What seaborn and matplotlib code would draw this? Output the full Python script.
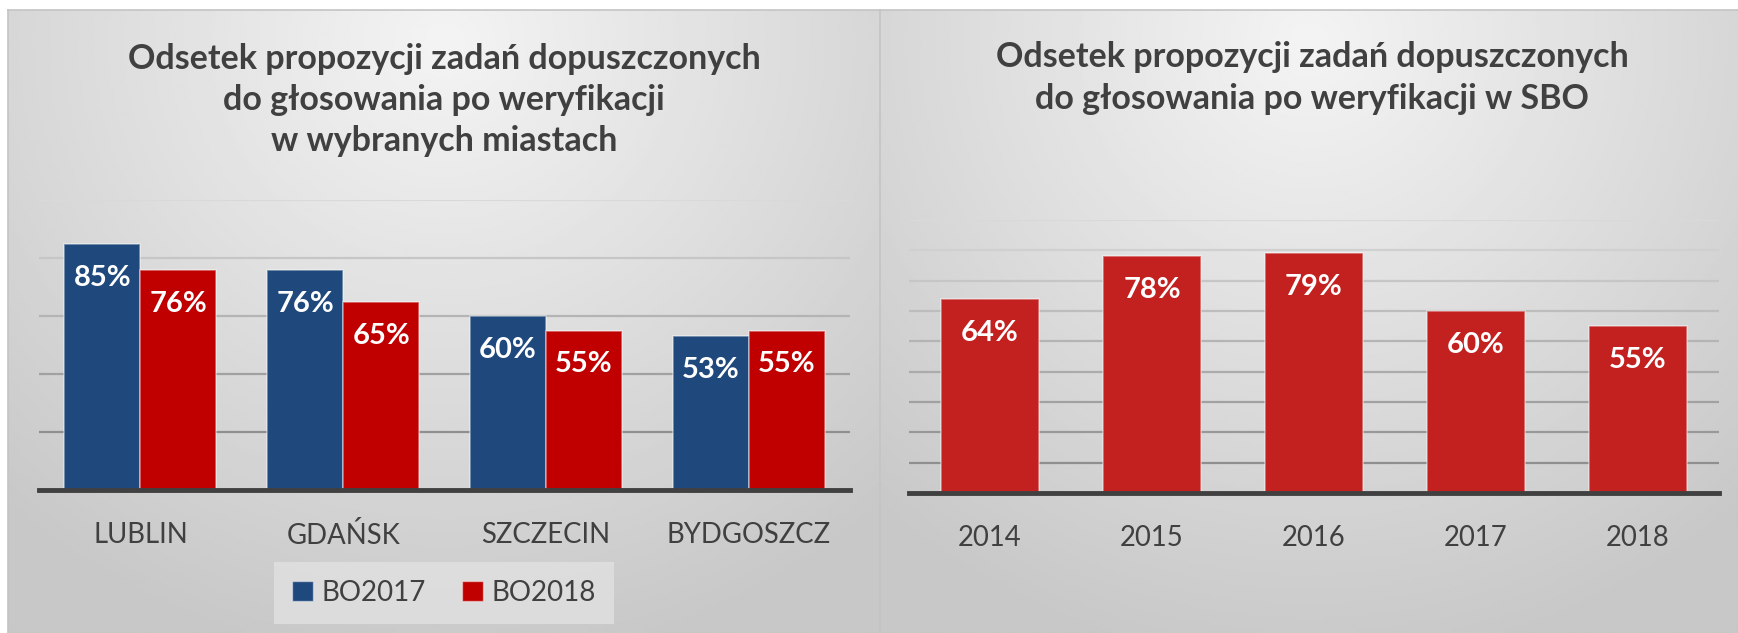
import numpy as np
import pandas as pd
import matplotlib
matplotlib.use("Agg")
import matplotlib.pyplot as plt
import seaborn as sns
from matplotlib.patches import Patch

# data
cities = ["LUBLIN", "GDAŃSK", "SZCZECIN", "BYDGOSZCZ"]
bo2017 = [85, 76, 60, 53]
bo2018 = [76, 65, 55, 55]
editions = ["BO2017", "BO2018"]

years = ["2014", "2015", "2016", "2017", "2018"]
sbo_share = [64, 78, 79, 60, 55]

left_title = "Odsetek propozycji zadań dopuszczonych\ndo głosowania po weryfikacji\nw wybranych miastach"
right_title = "Odsetek propozycji zadań dopuszczonych\ndo głosowania po weryfikacji w SBO"

BLUE = "#1f497d"
RED = "#c00000"
RED2 = "#c32020"
TEXT = "#404040"

sns.set_theme(style="white")
plt.rcParams["font.family"] = ["Lato", "DejaVu Sans"]

W, H = 1738, 633
fig = plt.figure(figsize=(W / 100, H / 100), dpi=100)
fig.patch.set_facecolor("white")


def fx(px):
    return px / W


def fy(py):
    return 1 - py / H


def panel_background(x0, x1):
    bg = fig.add_axes([fx(x0), 0, fx(x1 - x0), fy(10)], zorder=0)
    gx, gy = np.meshgrid(np.linspace(0, 1, 300), np.linspace(0, 1, 200))
    d = np.sqrt(((gx - 0.5) / 0.75) ** 2 + ((gy - 0.05) / 1.0) ** 2)
    shade = 0.955 - 0.17 * np.clip(d, 0, 1)
    bg.imshow(shade, cmap="gray", vmin=0, vmax=1, aspect="auto",
              extent=[0, 1, 1, 0], interpolation="bilinear")
    bg.set_xlim(0, 1)
    bg.set_ylim(1, 0)
    bg.set_xticks([])
    bg.set_yticks([])
    for s in bg.spines.values():
        s.set_color("#c4c4c4")
        s.set_linewidth(1.2)
    bg.spines["bottom"].set_visible(False)
    bg.spines["right"].set_visible(False)


def style_axes(ax, top, step):
    ax.set_facecolor("none")
    ax.set_ylim(0, top)
    ax.set_yticks(np.arange(step, top + 1, step))
    ax.yaxis.grid(True)
    ax.set_axisbelow(True)
    lines = ax.get_ygridlines()
    n = len(lines)
    for i, gl in enumerate(lines):
        # lines fade towards the top like in the original
        c = 0.56 + 0.29 * (i / max(n - 1, 1))
        gl.set_color((c, c, c))
        gl.set_linewidth(1.6)
    ax.tick_params(axis="y", left=False, labelleft=False)
    ax.tick_params(axis="x", bottom=False, pad=17, labelsize=19.8,
                   labelcolor=TEXT)
    for s in ["left", "right", "top"]:
        ax.spines[s].set_visible(False)
    ax.spines["bottom"].set_color(TEXT)
    ax.spines["bottom"].set_linewidth(3.5)
    ax.set_xlabel("")
    ax.set_ylabel("")


def label_bars(ax):
    for p in ax.patches:
        h = p.get_height()
        if np.isnan(h) or h == 0:
            continue
        ax.annotate(f"{h:.0f}%", (p.get_x() + p.get_width() / 2, h),
                    xytext=(0, -34), textcoords="offset pixels",
                    ha="center", va="center", color="white",
                    fontsize=21, fontweight="bold")


panel_background(8, 880)
panel_background(880, W)

# left panel: cities, two editions
df_cities = pd.DataFrame({
    "miasto": cities * 2,
    "edycja": [editions[0]] * len(cities) + [editions[1]] * len(cities),
    "odsetek": bo2017 + bo2018,
})
ax1 = fig.add_axes([fx(39), fy(490), fx(811), (490 - 200) / H], zorder=2)
sns.barplot(data=df_cities, x="miasto", y="odsetek", hue="edycja",
            palette=[BLUE, RED], width=0.75, ax=ax1, legend=False,
            edgecolor=(1, 1, 1, 0.45), linewidth=1.2, saturation=1)
style_axes(ax1, 100, 20)
label_bars(ax1)

# right panel: SBO by year
df_years = pd.DataFrame({"rok": years, "odsetek": sbo_share})
ax2 = fig.add_axes([fx(909), fy(493), fx(810), (493 - 220) / H], zorder=2)
sns.barplot(data=df_years, x="rok", y="odsetek", color=RED2, width=0.6,
            ax=ax2, edgecolor=(1, 1, 1, 0.45), linewidth=1.2, saturation=1)
style_axes(ax2, 90, 10)
label_bars(ax2)

# titles
fig.text(fx(444), fy(100), left_title, ha="center", va="center",
         fontsize=24.5, fontweight="bold", color=TEXT, linespacing=1.36)
fig.text(fx(1312), fy(78), right_title, ha="center", va="center",
         fontsize=24.5, fontweight="bold", color=TEXT, linespacing=1.36)

# legend for the city panel
handles = [Patch(facecolor=BLUE, edgecolor=(1, 1, 1, 0.45)),
           Patch(facecolor=RED, edgecolor=(1, 1, 1, 0.45))]
leg = fig.legend(handles, editions, loc="center", ncol=2,
                 bbox_to_anchor=(fx(444), fy(593)), frameon=True,
                 fontsize=20, handlelength=0.75, handleheight=0.75,
                 handletextpad=0.3, columnspacing=1.3, borderpad=0.65,
                 borderaxespad=0, fancybox=False)
leg.get_frame().set_facecolor("#e1e1e1")
leg.get_frame().set_edgecolor("none")
for t in leg.get_texts():
    t.set_color(TEXT)
leg.set_zorder(3)

fig.savefig("out.png", dpi=100)
